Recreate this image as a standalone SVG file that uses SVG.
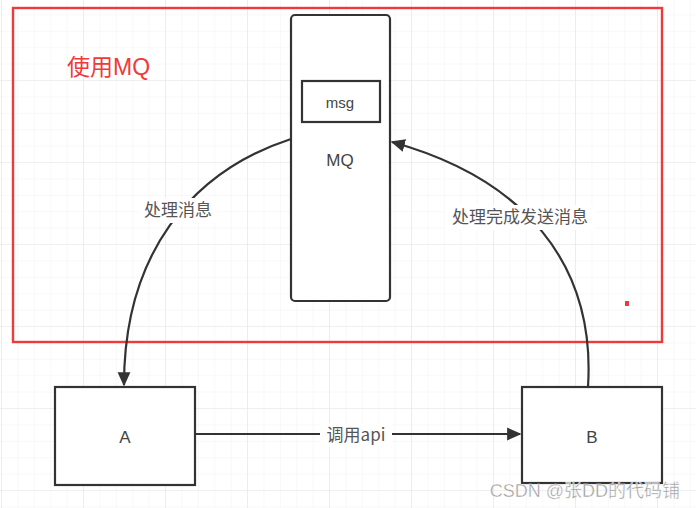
<svg xmlns="http://www.w3.org/2000/svg" width="696" height="508" viewBox="0 0 696 508">
<defs>
<pattern id="minor" width="16.4" height="16.4" patternUnits="userSpaceOnUse" x="2" y="-1">
<path d="M16.4 0 V16.4 M0 16.4 H16.4" fill="none" stroke="#f1f1f1" stroke-width="1"/>
</pattern>
<pattern id="major" width="82" height="82" patternUnits="userSpaceOnUse" x="2" y="-1">
<path d="M82 0 V82 M0 82 H82" fill="none" stroke="#e6e6e6" stroke-width="1.2"/>
</pattern>
<marker id="arr" viewBox="0 0 10 10" refX="9" refY="5" markerWidth="6.5" markerHeight="6.5" orient="auto" markerUnits="strokeWidth">
<path d="M0 0.5 L10 5 L0 9.5 z" fill="#333"/>
</marker>
</defs>
<style>
.node{fill:#fff;stroke:#333;stroke-width:2.2}
.lbl{font-family:"Liberation Sans","Noto Sans CJK SC",sans-serif;fill:#444;text-anchor:middle}
.edge{fill:none;stroke:#333;stroke-width:2.2}
.elbl{font-family:"Noto Sans CJK SC","Liberation Sans",sans-serif;font-size:17px;fill:#555;text-anchor:middle}
</style>
<rect width="696" height="508" fill="#fff"/>
<rect width="696" height="508" fill="url(#minor)"/>
<rect width="696" height="508" fill="url(#major)"/>

<g id="frame">
<rect x="13" y="8" width="649" height="334" fill="none" stroke="#f03a3a" stroke-width="2.4"/>
<text x="67" y="75" font-family="Liberation Sans, Noto Sans CJK SC, sans-serif" font-size="23" fill="#f03a3a">使用MQ</text>
<rect x="625" y="301" width="4" height="5" fill="#f03a3a"/>
</g>

<g id="mq">
<rect class="node" x="291" y="15" width="99" height="286" rx="4"/>
<text class="lbl" x="340" y="166" font-size="17">MQ</text>
</g>
<g id="msg">
<rect class="node" x="302" y="81" width="78" height="41"/>
<text class="lbl" x="340" y="108" font-size="15">msg</text>
</g>
<g id="A">
<rect class="node" x="55" y="387" width="140" height="98"/>
<text class="lbl" x="125" y="443" font-size="17">A</text>
</g>
<g id="B">
<rect class="node" x="522" y="387" width="140" height="96"/>
<text class="lbl" x="592" y="443" font-size="17">B</text>
</g>

<g id="connectors">
<path class="edge" d="M195 434 H520" marker-end="url(#arr)"/>
<path class="edge" d="M291 139 C190 172 124 255 124 385" marker-end="url(#arr)"/>
<path class="edge" d="M588 387 C596 262 522 178 392 142" marker-end="url(#arr)"/>
<rect x="320" y="423" width="72" height="24" fill="#fff"/>
<text class="elbl" x="356" y="441">调用api</text>
<rect x="139" y="198" width="78" height="25" fill="#fff"/>
<text class="elbl" x="178" y="216">处理消息</text>
<rect x="445" y="205" width="150" height="25" fill="#fff"/>
<text class="elbl" x="520" y="223">处理完成发送消息</text>
</g>

<text x="680" y="497" text-anchor="end" font-family="Liberation Sans, Noto Sans CJK SC, sans-serif" font-size="18" fill="#9a9a9a" stroke="#fff" stroke-width="0.4">CSDN @张DD的代码铺</text>
</svg>
